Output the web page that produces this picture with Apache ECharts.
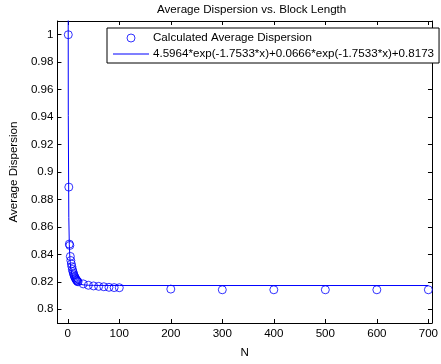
<!DOCTYPE html>
<html>
<head>
<meta charset="utf-8">
<script src="https://cdn.jsdelivr.net/npm/echarts@6/dist/echarts.min.js"></script>
<style>html,body{margin:0;padding:0;background:#fff;}#c{width:441px;height:364px;}</style>
</head>
<body>
<div id="c"></div>
<script>
// Data
var calcN = [1, 2, 3, 4, 5, 6, 7, 8, 9, 10, 11, 12, 13, 14, 15, 16, 17, 18, 19, 20,
             30, 40, 50, 60, 70, 80, 90, 100, 200, 300, 400, 500, 600, 700];
var calcVals = [1.000, 0.889, 0.8475, 0.8465, 0.8385, 0.8355, 0.8330, 0.8310, 0.8290, 0.8275,
                0.8262, 0.8250, 0.8240, 0.8232, 0.8225, 0.8218, 0.8212, 0.8207, 0.8203, 0.8200,
                0.8185, 0.8175, 0.8170, 0.8167, 0.8164, 0.8160, 0.8158, 0.8157,
                0.8147, 0.8142, 0.8142, 0.8142, 0.8142, 0.8142];
var fitN = [0, 1, 2, 3, 4, 5, 6, 8, 10, 12, 15, 20, 25, 30, 40, 50, 100, 700];
var fitVals = [1.5, 0.941, 0.867, 0.847, 0.838, 0.833, 0.8295, 0.8255, 0.8228, 0.8212,
               0.8198, 0.8187, 0.8181, 0.8178, 0.8175, 0.8174, 0.8173, 0.8173];
var xTicks = [0, 100, 200, 300, 400, 500, 600, 700];
var yTicks = [0.8, 0.82, 0.84, 0.86, 0.88, 0.9, 0.92, 0.94, 0.96, 0.98, 1];
var seriesNames = ['Calculated Average Dispersion',
                   '4.5964*exp(-1.7533*x)+0.0666*exp(-1.7533*x)+0.8173'];
var titleText = 'Average Dispersion vs. Block Length';
var xName = 'N';
var yName = 'Average Dispersion';

var FONT = 'Liberation Sans, Arial, sans-serif';
var FS = 11.6;
var chart = echarts.init(document.getElementById('c'), null, {renderer: 'canvas'});

function zip(a, b) { return a.map(function (v, i) { return [v, b[i]]; }); }
var lineStyleAxis = {color: '#000', width: 1};

var baseX = {
  type: 'value', min: -20, max: 707, gridIndex: 0,
  splitLine: {show: false},
  axisLine: {show: true, lineStyle: lineStyleAxis, onZero: false},
  axisTick: {show: true, inside: true, length: 4, lineStyle: lineStyleAxis, customValues: xTicks},
  axisLabel: {show: true, customValues: xTicks, color: '#000', fontSize: FS, fontFamily: FONT, margin: 5}
};
var baseY = {
  type: 'value', min: 0.79, max: 1.01, gridIndex: 0,
  splitLine: {show: false},
  axisLine: {show: true, lineStyle: lineStyleAxis, onZero: false},
  axisTick: {show: true, inside: true, length: 4, lineStyle: lineStyleAxis, customValues: yTicks},
  axisLabel: {show: true, customValues: yTicks, color: '#000', fontSize: FS, fontFamily: FONT, margin: 4,
    formatter: function (v) { return String(+v.toFixed(2)); }}
};

var option = {
  backgroundColor: '#fff',
  animation: false,
  title: {
    text: titleText, left: 152, top: -1,
    textStyle: {fontSize: FS, fontWeight: 'normal', color: '#000', fontFamily: FONT}
  },
  grid: {left: 53, top: 21, right: 1, bottom: 33, containLabel: false},
  xAxis: [
    Object.assign({}, baseX, {position: 'bottom', name: xName, nameLocation: 'middle', nameGap: 24,
      nameTextStyle: {color: '#000', fontSize: FS, fontFamily: FONT}}),
    Object.assign({}, baseX, {position: 'top', axisLabel: {show: false, customValues: xTicks}})
  ],
  yAxis: [
    Object.assign({}, baseY, {position: 'left', name: yName, nameLocation: 'middle', nameGap: 31,
      nameTextStyle: {color: '#000', fontSize: FS, fontFamily: FONT}}),
    Object.assign({}, baseY, {position: 'right', axisLabel: {show: false, customValues: yTicks}})
  ],
  legend: {
    orient: 'vertical', left: 107, top: 28,
    backgroundColor: '#fff', borderColor: '#000', borderWidth: 1, borderRadius: 0,
    padding: [4, 5, 3, 6], itemGap: 4, itemWidth: 36, itemHeight: 8,
    textStyle: {color: '#000', fontSize: FS, fontFamily: FONT, padding: [0, 0, 0, -1]},
    data: [
      {name: seriesNames[0], icon: 'circle', itemStyle: {color: 'transparent', borderColor: '#0000ff', borderWidth: 1}},
      {name: seriesNames[1], icon: 'path://M0,0L36,0L36,1L0,1Z'}
    ]
  },
  series: [
    {
      name: seriesNames[1], type: 'line', xAxisIndex: 0, yAxisIndex: 0,
      data: zip(fitN, fitVals), showSymbol: false, symbol: 'none', clip: true,
      lineStyle: {color: '#0000ff', width: 1}, itemStyle: {color: '#0000ff'}, z: 2
    },
    {
      name: seriesNames[0], type: 'scatter', xAxisIndex: 0, yAxisIndex: 0,
      data: zip(calcN, calcVals), symbol: 'circle', symbolSize: 8,
      itemStyle: {color: 'transparent', borderColor: '#0000ff', borderWidth: 1}, z: 3
    }
  ]
};
chart.setOption(option);
</script>
</body>
</html>
